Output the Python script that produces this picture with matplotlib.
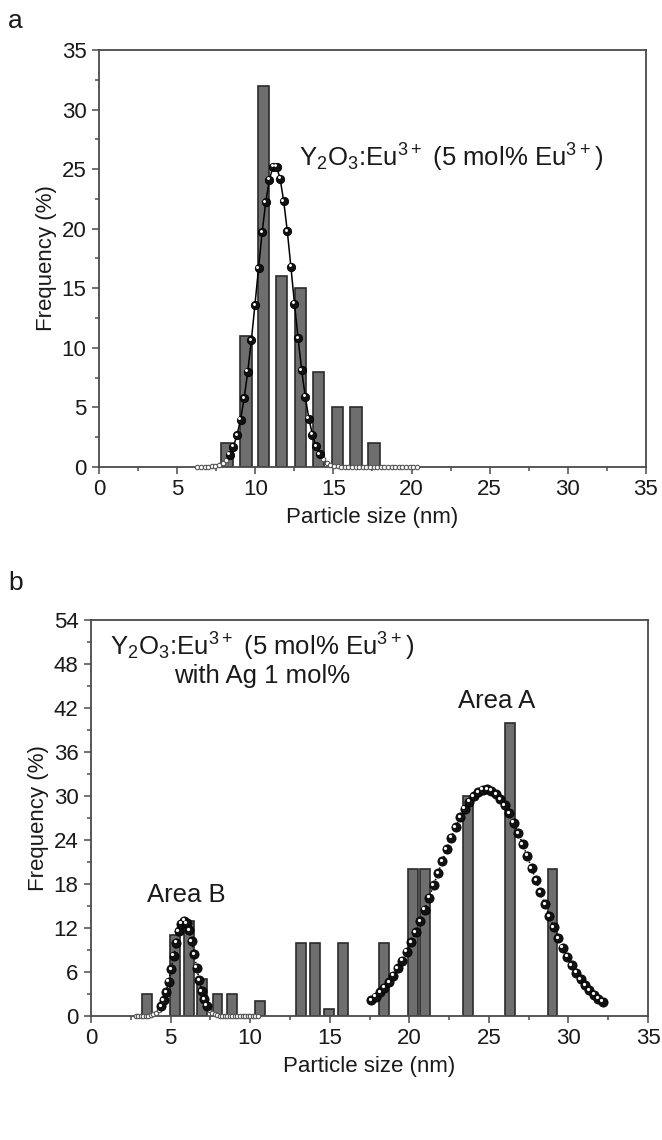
import matplotlib
matplotlib.use('Agg')
from matplotlib import pyplot as plt
import matplotlib.ticker as ticker
from matplotlib.transforms import offset_copy

plt.rcParams['font.family'] = ['Liberation Sans', 'DejaVu Sans']
plt.rcParams['mathtext.default'] = 'regular'

# ---- panel a: histogram + fitted curve ----
a_size = [8.2, 9.4, 10.55, 11.7, 12.9, 14.05, 15.25, 16.45, 17.6]
a_freq = [2, 11, 32, 16, 15, 8, 5, 5, 2]

a_fit_x = [6.30, 6.53, 6.76, 6.99, 7.22, 7.45, 7.68, 7.91, 8.14, 8.37,
           8.60, 8.83, 9.06, 9.29, 9.52, 9.75, 9.98, 10.21, 10.44, 10.67,
           10.90, 11.13, 11.36, 11.59, 11.82, 12.05, 12.28, 12.51, 12.74, 12.97,
           13.20, 13.43, 13.66, 13.89, 14.12, 14.35, 14.58, 14.81, 15.04, 15.27,
           15.50, 15.73, 15.96, 16.19, 16.42, 16.65, 16.88, 17.11, 17.34, 17.57,
           17.80, 18.03, 18.26, 18.49, 18.72, 18.95, 19.18, 19.41, 19.64, 19.87,
           20.10, 20.33]
a_fit_y = [0.0, 0.0, 0.01, 0.02, 0.05, 0.1, 0.19, 0.35, 0.61, 1.04,
           1.70, 2.66, 3.98, 5.77, 8.0, 10.64, 13.6, 16.7, 19.7, 22.2,
           24.1, 25.2, 25.2, 24.2, 22.3, 19.8, 16.8, 13.7, 10.8, 8.1,
           5.9, 4.06, 2.7, 1.73, 1.06, 0.63, 0.36, 0.19, 0.1, 0.05,
           0.02, 0.01, 0.0, 0.0, 0.0, 0.0, 0.0, 0.0, 0.0, 0.0,
           0.0, 0.0, 0.0, 0.0, 0.0, 0.0, 0.0, 0.0, 0.0, 0.0,
           0.0, 0.0]

# ---- panel b: histogram + two fitted curves ----
b_size = [3.5, 5.25, 6.15, 7.0, 7.95, 8.85, 10.6, 13.2, 14.1, 14.95,
          15.85, 18.4, 20.25, 21.0, 23.7, 26.3, 29.0]
b_freq = [3, 11, 13, 5, 3, 3, 2, 10, 10, 1,
          10, 10, 20, 20, 30, 40, 20]

areaB_x = [2.80, 2.96, 3.12, 3.28, 3.44, 3.60, 3.76, 3.92, 4.08, 4.24,
           4.40, 4.56, 4.72, 4.88, 5.04, 5.20, 5.36, 5.52, 5.68, 5.84,
           6.00, 6.16, 6.32, 6.48, 6.64, 6.80, 6.96, 7.12, 7.28, 7.44,
           7.60, 7.76, 7.92, 8.08, 8.24, 8.40, 8.56, 8.72, 8.88, 9.04,
           9.20, 9.36, 9.52, 9.68, 9.84, 10.00, 10.16, 10.32, 10.48]
areaB_y = [0.0, 0.0, 0.0, 0.01, 0.02, 0.05, 0.11, 0.23, 0.43, 0.77,
           1.31, 2.13, 3.24, 4.67, 6.37, 8.21, 10.0, 11.55, 12.6, 13.0,
           12.69, 11.71, 10.23, 8.44, 6.59, 4.88, 3.41, 2.25, 1.41, 0.83,
           0.46, 0.24, 0.12, 0.06, 0.03, 0.01, 0.0, 0.0, 0.0, 0.0,
           0.0, 0.0, 0.0, 0.0, 0.0, 0.0, 0.0, 0.0, 0.0]

areaA_x = [17.60, 17.88, 18.16, 18.44, 18.72, 19.00, 19.28, 19.56, 19.84, 20.12,
           20.40, 20.68, 20.96, 21.24, 21.52, 21.80, 22.08, 22.36, 22.64, 22.92,
           23.20, 23.48, 23.76, 24.04, 24.32, 24.60, 24.88, 25.16, 25.44, 25.72,
           26.00, 26.28, 26.56, 26.84, 27.12, 27.40, 27.68, 27.96, 28.24, 28.52,
           28.80, 29.08, 29.36, 29.64, 29.92, 30.20, 30.48, 30.76, 31.04, 31.32,
           31.60, 31.88, 32.16]
areaA_y = [2.17, 2.65, 3.22, 3.88, 4.64, 5.51, 6.48, 7.56, 8.75, 10.05,
           11.45, 12.94, 14.50, 16.13, 17.79, 19.48, 21.14, 22.77, 24.32, 25.78,
           27.10, 28.26, 29.23, 30.00, 30.54, 30.84, 30.89, 30.70, 30.25, 29.59,
           28.70, 27.62, 26.36, 24.96, 23.45, 21.85, 20.19, 18.52, 16.84, 15.20,
           13.60, 12.08, 10.64, 9.30, 8.06, 6.93, 5.91, 5.00, 4.19, 3.49,
           2.89, 2.36, 1.92]

BAR = '#6e6e6e'
EDGE = '#2b2b2b'
FRAME = '#4a4a4a'
TXT = '#1a1a1a'
NOTE = 18.5


def style_axes(ax, ymax, ystep):
    ax.set_xlim(0, 35)
    ax.set_ylim(0, ymax)
    ax.xaxis.set_major_locator(ticker.MultipleLocator(5))
    ax.xaxis.set_minor_locator(ticker.MultipleLocator(2.5))
    ax.yaxis.set_major_locator(ticker.MultipleLocator(ystep))
    ax.yaxis.set_minor_locator(ticker.MultipleLocator(ystep / 2))
    for s in ax.spines.values():
        s.set_color(FRAME)
        s.set_linewidth(1.3)
    ax.tick_params(which='both', direction='out', color=FRAME, width=1.1,
                   labelsize=16, labelcolor=TXT)
    ax.tick_params(which='major', length=5, pad=4)
    ax.tick_params(which='minor', length=3)
    ax.set_xlabel('Particle size (nm)', fontsize=16, color=TXT, labelpad=5)
    ax.set_ylabel('Frequency (%)', fontsize=16, color=TXT, labelpad=3)


def draw_fit(fig, ax, xs, ys, line_style, size, small):
    ax.plot(xs, ys, line_style, color='black', lw=1.1, zorder=3)
    big_x = [x for x, y in zip(xs, ys) if y >= 1.0]
    big_y = [y for y in ys if y >= 1.0]
    tail_x = [x for x, y in zip(xs, ys) if y < 1.0]
    tail_y = [y for y in ys if y < 1.0]
    ax.plot(tail_x, tail_y, 'o', ms=small, mfc='white', mec='#555555',
            mew=0.8, zorder=4, clip_on=False)
    ax.plot(big_x, big_y, 'o', ms=size, mfc='#111111', mec='#000000',
            mew=0.6, zorder=5)
    hl = offset_copy(ax.transData, fig=fig, x=-1.0, y=1.0, units='points')
    ax.plot(big_x, big_y, 'o', ms=size * 0.35, mfc='white', mec='none',
            transform=hl, zorder=6)


fig = plt.figure(figsize=(6.62, 11.4), dpi=100)

ax1 = fig.add_axes([0.1495, 0.5904, 0.8263, 0.3658])
ax1.bar(a_size, a_freq, width=0.72, color=BAR, edgecolor=EDGE, linewidth=1.2, zorder=2)
draw_fit(fig, ax1, a_fit_x, a_fit_y, '-', 6.0, 3.2)
style_axes(ax1, 35, 5)
ax1.text(12.8, 25.2, 'Y$_2$O$_3$:Eu$^{3+}$ (5 mol% Eu$^{3+}$)', fontsize=NOTE, color=TXT)
fig.text(0.012, 0.982, 'a', fontsize=19, color=TXT, va='center')

ax2 = fig.add_axes([0.1375, 0.1088, 0.8414, 0.3474])
ax2.bar(b_size, b_freq, width=0.62, color=BAR, edgecolor=EDGE, linewidth=1.2, zorder=2)
draw_fit(fig, ax2, areaB_x, areaB_y, ':', 6.6, 3.2)
draw_fit(fig, ax2, areaA_x, areaA_y, ':', 6.6, 3.2)
style_axes(ax2, 54, 6)
ax2.text(1.2, 45.4, 'Y$_2$O$_3$:Eu$^{3+}$ (5 mol% Eu$^{3+}$)\nwith Ag 1 mol%',
         fontsize=NOTE, color=TXT, multialignment='center', va='baseline',
         linespacing=1.05)
ax2.text(6.0, 15.6, 'Area B', fontsize=NOTE, color=TXT, ha='center')
ax2.text(25.5, 42.0, 'Area A', fontsize=NOTE, color=TXT, ha='center')
fig.text(0.012, 0.489, 'b', fontsize=19, color=TXT, va='center')

plt.savefig('out.png', dpi=100)
